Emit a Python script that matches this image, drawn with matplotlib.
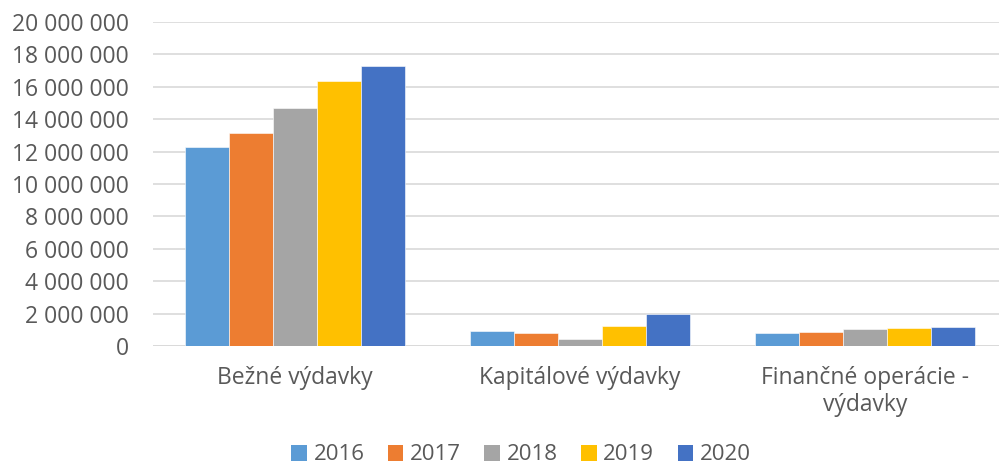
import matplotlib
matplotlib.use("Agg")
import matplotlib.pyplot as plt
import numpy as np
from matplotlib.ticker import FuncFormatter
from matplotlib.patches import Patch

categories = ["Bežné výdavky", "Kapitálové výdavky", "Finančné operácie -\nvýdavky"]
years = ["2016", "2017", "2018", "2019", "2020"]
v2016 = [12250000, 950000, 790000]
v2017 = [13130000, 790000, 870000]
v2018 = [14680000, 480000, 1090000]
v2019 = [16330000, 1270000, 1110000]
v2020 = [17300000, 2020000, 1170000]
series = [v2016, v2017, v2018, v2019, v2020]
colors = ["#5B9BD5", "#ED7D31", "#A5A5A5", "#FFC000", "#4472C4"]

plt.rcParams['font.family'] = ['Open Sans', 'DejaVu Sans']

fig = plt.figure(figsize=(9.99, 4.70), dpi=100)
W, H = 999, 470
left, right = 152.5, 1007.5
bottom, top = 346.3, 21.7
ax = fig.add_axes([left / W, (H - bottom) / H, (right - left) / W, (bottom - top) / H])

x = np.arange(len(categories))
bw = 0.772 / 5
for i, (vals, c, y) in enumerate(zip(series, colors, years)):
    ax.bar(x + (i - 2) * bw, vals, width=bw, color=c, edgecolor="white", linewidth=0.4, label=y, zorder=3)

ax.set_xlim(-0.5, 2.5)
ax.set_ylim(0, 20000000)
ax.set_yticks(np.arange(0, 20000001, 2000000))
ax.yaxis.set_major_formatter(FuncFormatter(lambda v, p: f"{int(v):,}".replace(",", " ")))
ax.grid(axis="y", color="#D9D9D9", linewidth=1.2, zorder=0)
for s in ax.spines.values():
    s.set_visible(False)
ax.tick_params(axis="y", length=0, pad=17, labelsize=16.5, labelcolor="#595959")
ax.set_xticks(x)
ax.set_xticklabels(categories, fontsize=16.5, color="#595959", linespacing=1.2, va="top")
ax.tick_params(axis="x", length=0, pad=14)
ax.axhline(0, color="#D9D9D9", linewidth=1.2, zorder=2)

handles = [Patch(facecolor=c, edgecolor="none", label=y) for c, y in zip(colors, years)]
leg = fig.legend(handles=handles, loc="center", bbox_to_anchor=(521 / W, (H - 455) / H),
                 ncol=5, frameon=False, fontsize=16, handlelength=0.7, handleheight=0.7,
                 handletextpad=0.3, columnspacing=1.05, borderpad=0.2)
for t in leg.get_texts():
    t.set_color("#595959")

fig.savefig("out.png", dpi=100)
